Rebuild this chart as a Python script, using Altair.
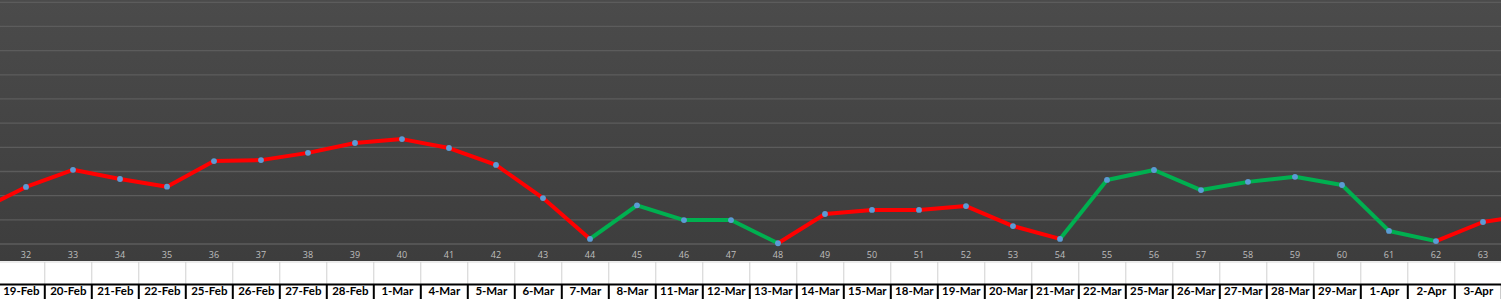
import altair as alt
import pandas as pd

# Category numbers (31 and 64 lie just outside the visible area)
categories = list(range(31, 65))
values = [1.39, 2.36, 3.07, 2.69, 2.37, 3.43, 3.47, 3.77, 4.18, 4.34, 3.97, 3.27,
          1.90, 0.21, 1.60, 0.99, 0.99, 0.03, 1.24, 1.41, 1.41, 1.57, 0.74, 0.21,
          2.65, 3.06, 2.23, 2.57, 2.78, 2.44, 0.54, 0.12, 0.91, 1.20]
# State of each segment (segment i goes from categories[i] to categories[i+1])
seg_state = (["down"] * 13 + ["up"] * 4 + ["down"] * 6 + ["up"] * 8 + ["down"] * 2)
dates = ["19-Feb", "20-Feb", "21-Feb", "22-Feb", "25-Feb", "26-Feb", "27-Feb", "28-Feb",
         "1-Mar", "4-Mar", "5-Mar", "6-Mar", "7-Mar", "8-Mar", "11-Mar", "12-Mar",
         "13-Mar", "14-Mar", "15-Mar", "18-Mar", "19-Mar", "20-Mar", "21-Mar", "22-Mar",
         "25-Mar", "26-Mar", "27-Mar", "28-Mar", "29-Mar", "1-Apr", "2-Apr", "3-Apr"]
date_cats = list(range(32, 64))
grid_values = list(range(0, 11))

W, H = 1501, 299

seg_rows = []
for i, st in enumerate(seg_state):
    for j in (i, i + 1):
        seg_rows.append({"seg": i, "state": st, "n": categories[j], "v": values[j]})
seg_df = pd.DataFrame(seg_rows)
pts_df = pd.DataFrame({"n": categories, "v": values})
lab_df = pd.DataFrame({"n": date_cats, "lab": [str(c) for c in date_cats]})
date_df = pd.DataFrame({"n": date_cats, "date": dates})
date_df["nx"] = date_df["n"] - 0.1
border_df = pd.DataFrame({"bx": [c - 0.6 for c in date_cats] + [date_cats[-1] + 0.4]})
grid_df = pd.DataFrame({"g": grid_values})
one_df = pd.DataFrame({"a": [0]})

xs = alt.Scale(domain=[31.447, 63.383], nice=False, zero=False)
ys = alt.Scale(domain=[-2.276, 10.095], nice=False, zero=False)

X = lambda f: alt.X(f, scale=xs, axis=None)
Y = lambda f: alt.Y(f, scale=ys, axis=None)

bg = alt.Chart(one_df).mark_rect(
    color=alt.LinearGradient(gradient="linear", x1=0, x2=0, y1=0, y2=1,
                             stops=[alt.GradientStop(offset=0, color="#4b4b4b"),
                                    alt.GradientStop(offset=1, color="#3d3d3d")])
).encode(x=alt.value(0), x2=alt.value(W), y=alt.value(0), y2=alt.value(261))

grid = alt.Chart(grid_df).mark_rule(color="#5c5c5c", strokeWidth=1.3).encode(
    x=alt.value(0), x2=alt.value(W), y=Y("g:Q")
)

lines = alt.Chart(seg_df).mark_line(strokeWidth=4, strokeJoin="round", clip=True).encode(
    x=X("n:Q"),
    y=Y("v:Q"),
    detail="seg:N",
    color=alt.Color("state:N", scale=alt.Scale(domain=["down", "up"], range=["#ff0000", "#00b050"]),
                    legend=None),
)

points = alt.Chart(pts_df).mark_circle(size=34, opacity=1, color="#5b9bd5", clip=True).encode(
    x=X("n:Q"), y=Y("v:Q")
)

labels = alt.Chart(lab_df).mark_text(fontSize=9, color="#bfbfbf", font="Open Sans").encode(
    x=X("n:Q"), y=alt.value(255), text="lab:N"
)

white = alt.Chart(one_df).mark_rect(color="white").encode(
    x=alt.value(0), x2=alt.value(W), y=alt.value(261), y2=alt.value(H)
)

top_gray = alt.Chart(one_df).mark_rule(color="#d9d9d9", strokeWidth=1).encode(
    x=alt.value(0), x2=alt.value(W), y=alt.value(262)
)

gray_v = alt.Chart(border_df).mark_rule(color="#d0d0d0", strokeWidth=1).encode(
    x=X("bx:Q"), y=alt.value(262), y2=alt.value(284)
)

black_h = alt.Chart(one_df).mark_rule(color="black", strokeWidth=2).encode(
    x=alt.value(0), x2=alt.value(W), y=alt.value(284.5)
)

black_v = alt.Chart(border_df).mark_rule(color="black", strokeWidth=2).encode(
    x=X("bx:Q"), y=alt.value(284), y2=alt.value(H)
)

date_text = alt.Chart(date_df).mark_text(fontSize=11.5, fontWeight="bold", color="black",
                                         font="Lato").encode(
    x=X("nx:Q"), y=alt.value(292), text="date:N"
)

chart = alt.layer(bg, grid, lines, points, labels, white, top_gray, gray_v, black_h, black_v,
                  date_text).properties(
    width=W, height=H, padding=0, autosize=alt.AutoSizeParams(type="none")
).configure_view(stroke=None).configure(background="white")

chart.save("out.html", embed_options={"renderer": "svg", "actions": False})
